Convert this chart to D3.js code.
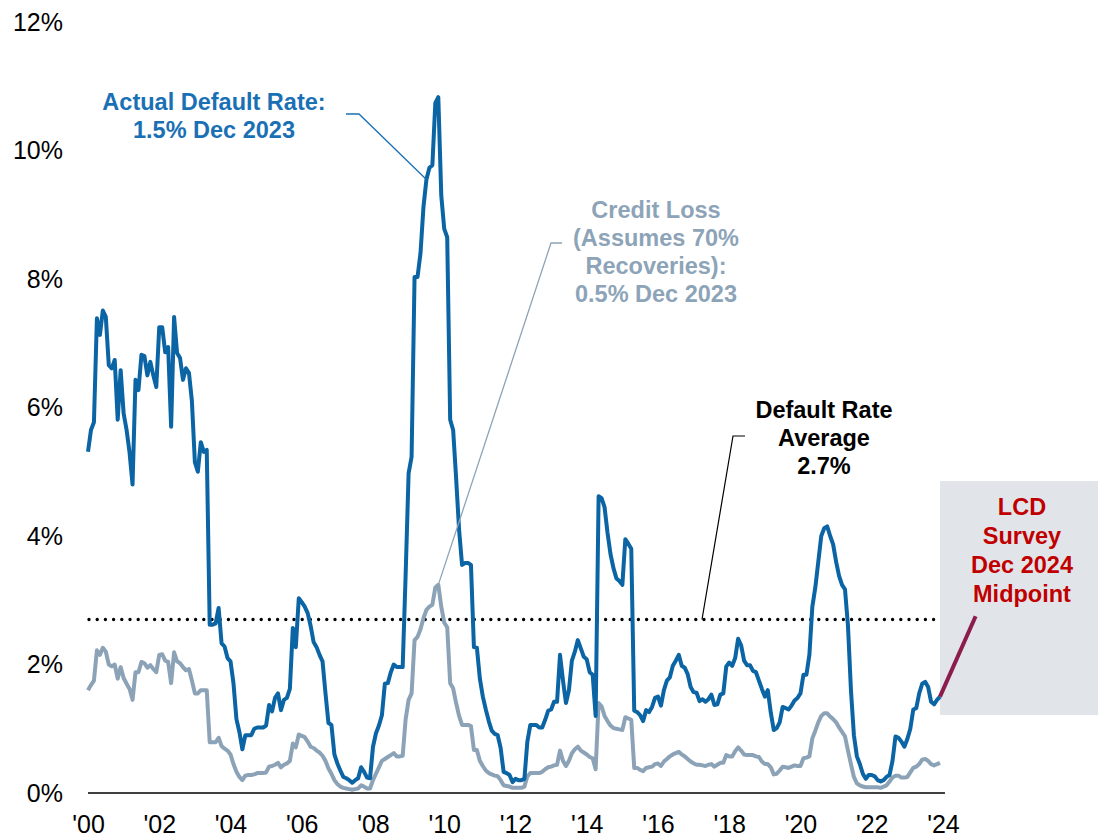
<!DOCTYPE html>
<html>
<head>
<meta charset="utf-8">
<script src="https://cdn.jsdelivr.net/npm/d3@7"></script>
<style>
  body { margin: 0; background: #fff; }
  text { font-family: "Liberation Sans", Arial, sans-serif; }
</style>
</head>
<body>
<div id="chart"></div>
<script>
// monthly values, Jan 2000 .. Dec 2023 (one row per year)
var defaultRate = [
  5.31, 5.65, 5.77, 7.39, 7.13, 7.51, 7.41, 6.66, 6.61, 6.74, 5.81, 6.58,
  5.91, 5.65, 5.3, 4.8, 6.43, 6.27, 6.82, 6.8, 6.5, 6.71, 6.5, 6.32,
  7.25, 7.25, 6.86, 6.94, 5.7, 7.41, 6.85, 6.77, 6.43, 6.61, 6.54, 6.1,
  5.15, 5.0, 5.46, 5.31, 5.34, 2.62, 2.62, 2.64, 2.88, 2.33, 2.28, 2.1,
  2.05, 1.71, 1.15, 0.95, 0.68, 0.9, 0.9, 0.9, 1.0, 1.02, 1.02, 1.02,
  1.05, 1.37, 1.27, 1.48, 1.55, 1.29, 1.45, 1.48, 1.62, 2.57, 2.27, 3.03,
  2.97, 2.9, 2.8, 2.6, 2.35, 2.27, 2.15, 2.05, 1.55, 1.09, 1.06, 0.6,
  0.46, 0.35, 0.25, 0.23, 0.2, 0.16, 0.2, 0.23, 0.4, 0.33, 0.24, 0.23,
  0.72, 0.93, 1.05, 1.21, 1.7, 1.71, 1.88, 2.0, 1.96, 1.96, 1.96, 3.4,
  4.98, 5.23, 8.03, 8.03, 8.4, 9.12, 9.55, 9.73, 9.77, 10.74, 10.83, 9.3,
  8.78, 8.65, 5.81, 5.65, 4.9, 4.1, 3.55, 3.58, 3.58, 3.55, 2.27, 2.26,
  1.78, 1.5, 1.3, 1.12, 0.97, 0.92, 0.9, 0.7, 0.33, 0.31, 0.28, 0.17,
  0.22, 0.2, 0.2, 0.22, 0.8, 1.06, 1.06, 1.06, 1.02, 1.02, 1.14, 1.28,
  1.3, 1.42, 1.42, 2.15, 1.75, 1.4, 1.6, 2.06, 2.2, 2.38, 2.25, 2.12,
  2.08, 1.88, 1.84, 1.2, 4.62, 4.59, 4.45, 4.05, 3.72, 3.5, 3.34, 3.3,
  3.24, 3.95, 3.88, 3.8, 1.28, 1.26, 1.21, 1.12, 1.29, 1.26, 1.34, 1.48,
  1.5, 1.36, 1.6, 1.75, 1.8, 1.98, 2.06, 2.15, 1.98, 1.95, 1.85, 1.65,
  1.57, 1.56, 1.43, 1.46, 1.42, 1.46, 1.53, 1.37, 1.38, 1.53, 1.55, 1.97,
  2.03, 1.98, 2.1, 2.4, 2.3, 2.06, 1.99, 1.99, 1.9, 1.88, 1.75, 1.62,
  1.5, 1.6, 1.25, 0.98, 1.01, 1.1, 1.34, 1.32, 1.3, 1.36, 1.44, 1.48,
  1.55, 1.84, 1.84, 2.15, 2.9, 3.2, 3.6, 4.0, 4.12, 4.15, 4.0, 3.87,
  3.6, 3.38, 3.24, 3.17, 2.6, 1.6, 0.9, 0.57, 0.45, 0.3, 0.22, 0.28,
  0.28, 0.26, 0.2, 0.18, 0.2, 0.25, 0.28, 0.5, 0.88, 0.86, 0.8, 0.72,
  0.84, 1.0, 1.3, 1.32, 1.55, 1.7, 1.73, 1.65, 1.42, 1.38, 1.45, 1.5
];

var creditLoss = [
  1.6, 1.68, 1.75, 2.22, 2.15, 2.26, 2.2, 2.0, 1.97, 2.0, 1.78, 1.96,
  1.79, 1.7, 1.62, 1.45, 1.88, 1.88, 2.04, 2.02, 1.95, 1.99, 1.93, 1.88,
  2.15, 2.16, 2.06, 2.04, 1.71, 2.19, 2.05, 2.02, 1.96, 1.91, 1.93, 1.75,
  1.55, 1.55, 1.6, 1.6, 1.6, 0.79, 0.79, 0.79, 0.86, 0.73, 0.69, 0.66,
  0.6, 0.45, 0.33, 0.25, 0.2, 0.27, 0.28, 0.28, 0.29, 0.31, 0.31, 0.31,
  0.32, 0.41, 0.42, 0.44, 0.47, 0.4, 0.44, 0.46, 0.5, 0.77, 0.71, 0.91,
  0.89, 0.87, 0.8, 0.72, 0.7, 0.66, 0.63, 0.58, 0.5, 0.38, 0.3, 0.2,
  0.14, 0.1, 0.08, 0.07, 0.06, 0.05, 0.06, 0.07, 0.12, 0.1, 0.07, 0.07,
  0.2, 0.3, 0.4, 0.5, 0.53, 0.56, 0.59, 0.62, 0.57, 0.57, 0.58, 1.15,
  1.45, 1.55, 2.38, 2.43, 2.55, 2.72, 2.85, 2.9, 2.93, 3.2, 3.24, 2.9,
  2.65, 2.58, 1.71, 1.63, 1.4, 1.2, 1.06, 1.06, 1.06, 1.04, 0.67, 0.67,
  0.5, 0.42, 0.35, 0.31, 0.29, 0.27, 0.26, 0.2, 0.12, 0.11, 0.1, 0.08,
  0.08, 0.08, 0.08, 0.1, 0.26, 0.31, 0.31, 0.31, 0.31, 0.33, 0.37, 0.4,
  0.41, 0.43, 0.44, 0.66, 0.5, 0.42, 0.5, 0.62, 0.68, 0.72, 0.66, 0.63,
  0.6, 0.56, 0.54, 0.37, 1.4, 1.35, 1.2, 1.12, 1.05, 1.01, 1.0, 0.99,
  0.98, 1.18, 1.16, 1.14, 0.39, 0.39, 0.36, 0.34, 0.39, 0.4, 0.41, 0.45,
  0.46, 0.42, 0.49, 0.53, 0.57, 0.6, 0.62, 0.64, 0.6, 0.57, 0.53, 0.49,
  0.46, 0.44, 0.44, 0.43, 0.42, 0.44, 0.45, 0.41, 0.44, 0.47, 0.47, 0.59,
  0.57, 0.57, 0.65, 0.71, 0.66, 0.6, 0.59, 0.59, 0.59, 0.57, 0.56, 0.49,
  0.45, 0.45, 0.4, 0.29, 0.3, 0.35, 0.41, 0.4, 0.39, 0.41, 0.43, 0.42,
  0.42, 0.54, 0.55, 0.57, 0.85, 0.97, 1.1, 1.2, 1.24, 1.24, 1.19, 1.15,
  1.1, 1.02, 0.95, 0.88, 0.66, 0.45, 0.25, 0.15, 0.12, 0.1, 0.09, 0.09,
  0.09, 0.09, 0.09, 0.08, 0.1, 0.12, 0.18, 0.24, 0.27, 0.27, 0.24, 0.24,
  0.25, 0.32, 0.39, 0.41, 0.45, 0.52, 0.53, 0.5, 0.45, 0.43, 0.45, 0.47
];

var startYear = 2000;
var averageRate = 2.7;
// LCD survey: last actual (Dec 2023) to Dec 2024 midpoint
var surveyMonths = [287, 299];
var surveyValues = [1.5, 2.75];
var yTicks = [0, 2, 4, 6, 8, 10, 12];
var xTicks = [2000, 2002, 2004, 2006, 2008, 2010, 2012, 2014, 2016, 2018, 2020, 2022, 2024];

var blue = "#0b64a4", grey = "#8ca3b7", blueText = "#1a70b5", greyText = "#8da4b8";

var svg = d3.select("#chart").append("svg")
    .attr("width", 1098).attr("height", 838);

var x = d3.scaleLinear().domain([startYear, startYear + 287 / 12]).range([88, 940]);
var y = d3.scaleLinear().domain([0, 12]).range([793, 22]);

function t(i) { return startYear + i / 12; }

var line = d3.line()
    .x(function(d) { return x(d.t); })
    .y(function(d) { return y(d.v); });

var dr = defaultRate.map(function(v, i) { return {t: t(i), v: v}; });
var cl = creditLoss.map(function(v, i) { return {t: t(i), v: v}; });
var sv = surveyMonths.map(function(m, i) { return {t: t(m), v: surveyValues[i]}; });

// survey box
svg.append("rect")
    .attr("x", x(t(287))).attr("y", 481)
    .attr("width", 1098 - x(t(287))).attr("height", 234)
    .attr("fill", "#e1e5ea");

// y axis
var yAxis = svg.append("g")
    .attr("transform", "translate(66,0)")
    .call(d3.axisLeft(y).tickValues(yTicks).tickSize(0).tickPadding(3)
        .tickFormat(function(d) { return d + "%"; }));
yAxis.select(".domain").remove();
yAxis.selectAll("text").style("font-size", "25px").attr("fill", "#000")
    .style("font-family", "'Liberation Sans', Arial, sans-serif");

// x axis
var xAxis = svg.append("g")
    .attr("transform", "translate(0," + y(0) + ")")
    .call(d3.axisBottom(x).tickValues(xTicks).tickSize(0).tickPadding(22)
        .tickFormat(function(d) { return "'" + String(d).slice(2); }));
xAxis.select(".domain").attr("stroke", "#000").attr("stroke-width", 1.5)
    .attr("d", "M" + x(startYear) + ",0H" + (x(2024) + 2));
xAxis.selectAll("text").style("font-size", "25px").attr("fill", "#000")
    .style("font-family", "'Liberation Sans', Arial, sans-serif");

// average dotted line
svg.append("line")
    .attr("x1", x(startYear) + 1).attr("x2", x(t(287)))
    .attr("y1", y(averageRate)).attr("y2", y(averageRate))
    .attr("stroke", "#000").attr("stroke-width", 3.4)
    .attr("stroke-linecap", "round").attr("stroke-dasharray", "0 8.2");

// series
svg.append("path").datum(cl).attr("d", line)
    .attr("fill", "none").attr("stroke", grey).attr("stroke-width", 4)
    .attr("stroke-linejoin", "round");
svg.append("path").datum(dr).attr("d", line)
    .attr("fill", "none").attr("stroke", blue).attr("stroke-width", 4)
    .attr("stroke-linejoin", "round");
svg.append("path").datum(sv).attr("d", line)
    .attr("fill", "none").attr("stroke", "#8b1c4c").attr("stroke-width", 4);

// annotations
function label(lines, cx, y0, color) {
  var g = svg.append("text").attr("text-anchor", "middle")
      .attr("fill", color).style("font-size", "23.5px").style("font-weight", "bold");
  lines.forEach(function(s, i) {
    g.append("tspan").attr("x", cx).attr("y", y0 + i * 28).text(s);
  });
}

label(["Actual Default Rate:", "1.5% Dec 2023"], 214, 110, blueText);
label(["Credit Loss", "(Assumes 70%", "Recoveries):", "0.5% Dec 2023"], 656, 218, greyText);
label(["Default Rate", "Average", "2.7%"], 824, 418, "#000");

var red = svg.append("text").attr("text-anchor", "middle")
    .attr("fill", "#c00000").style("font-size", "23.5px").style("font-weight", "bold");
["LCD", "Survey", "Dec 2024", "Midpoint"].forEach(function(s, i) {
  red.append("tspan").attr("x", 1022).attr("y", 515 + i * 29).text(s);
});

// leader lines
var pk = dr[114], cpk = cl[118];
svg.append("polyline")
    .attr("points", [[346, 114], [359, 114], [x(pk.t), y(pk.v)]].join(" "))
    .attr("fill", "none").attr("stroke", blueText).attr("stroke-width", 1.3);
svg.append("polyline")
    .attr("points", [[562, 243], [551, 243], [x(cpk.t), y(cpk.v)]].join(" "))
    .attr("fill", "none").attr("stroke", greyText).attr("stroke-width", 1.3);
svg.append("polyline")
    .attr("points", [[745, 436], [733, 436], [702, y(averageRate)]].join(" "))
    .attr("fill", "none").attr("stroke", "#000").attr("stroke-width", 1.2);
</script>
</body>
</html>
